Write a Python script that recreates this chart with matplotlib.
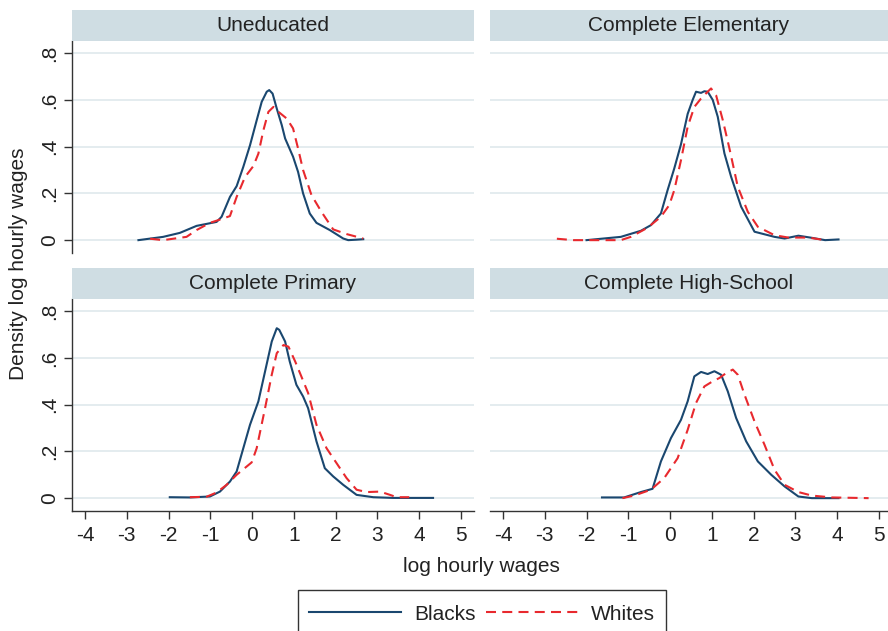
import matplotlib
matplotlib.use("Agg")
import matplotlib.pyplot as plt
from matplotlib.lines import Line2D
from matplotlib.patches import Rectangle

plt.rcParams['font.family'] = ['Liberation Sans', 'DejaVu Sans']
plt.rcParams['axes.unicode_minus'] = False

# Kernel density estimates of log hourly wages, by education group
panel_titles = ["Uneducated", "Complete Elementary", "Complete Primary", "Complete High-School"]
series_names = ["Blacks", "Whites"]

uned_black_x = [-2.72, -2.13, -1.73, -1.33, -0.85, -0.73, -0.53, -0.37, -0.21, -0.05, 0.11, 0.23,
                0.35, 0.41, 0.49, 0.59, 0.71, 0.79, 0.98, 1.10, 1.22, 1.38, 1.54, 1.86, 2.18, 2.30,
                2.50, 2.66]
uned_black_y = [0.0, 0.014, 0.031, 0.061, 0.078, 0.10, 0.185, 0.231, 0.314, 0.406, 0.513, 0.592,
                0.635, 0.642, 0.627, 0.563, 0.492, 0.435, 0.357, 0.292, 0.20, 0.114, 0.074, 0.043,
                0.007, 0.0, 0.002, 0.004]
uned_white_x = [-2.44, -2.13, -1.57, -1.33, -1.01, -0.77, -0.53, -0.37, -0.17, 0.03, 0.15, 0.27,
                0.39, 0.51, 0.63, 0.83, 0.98, 1.10, 1.22, 1.42, 1.66, 1.94, 2.26, 2.66]
uned_white_y = [0.006, 0.0, 0.014, 0.043, 0.074, 0.088, 0.103, 0.185, 0.27, 0.317, 0.37, 0.47,
                0.549, 0.57, 0.549, 0.52, 0.478, 0.392, 0.30, 0.193, 0.121, 0.046, 0.026, 0.007]

elem_black_x = [-2.0, -1.18, -0.70, -0.46, -0.22, -0.06, 0.10, 0.26, 0.42, 0.54, 0.62, 0.74, 0.82,
                0.90, 1.02, 1.14, 1.30, 1.46, 1.70, 2.02, 2.50, 2.74, 3.07, 3.39, 3.71, 4.03]
elem_black_y = [0.0, 0.014, 0.04, 0.064, 0.114, 0.214, 0.307, 0.41, 0.54, 0.60, 0.635, 0.63, 0.637,
                0.635, 0.60, 0.528, 0.371, 0.271, 0.143, 0.036, 0.014, 0.007, 0.019, 0.01, 0.0, 0.003]
elem_white_x = [-2.71, -2.31, -1.18, -0.94, -0.54, -0.22, -0.02, 0.10, 0.26, 0.42, 0.58, 0.74, 0.90,
                0.98, 1.10, 1.26, 1.42, 1.62, 1.86, 2.10, 2.50, 2.83, 3.31, 3.71]
elem_white_y = [0.006, 0.0, 0.0, 0.014, 0.053, 0.10, 0.15, 0.214, 0.342, 0.485, 0.57, 0.606, 0.635,
                0.649, 0.62, 0.514, 0.392, 0.228, 0.121, 0.057, 0.021, 0.011, 0.011, 0.0]

prim_black_x = [-1.97, -1.49, -1.01, -0.77, -0.53, -0.37, -0.21, -0.05, 0.15, 0.31, 0.47, 0.59,
                0.65, 0.79, 0.90, 1.06, 1.22, 1.34, 1.54, 1.74, 1.94, 2.18, 2.50, 2.90, 3.37, 4.33]
prim_black_y = [0.004, 0.003, 0.007, 0.028, 0.071, 0.114, 0.214, 0.314, 0.414, 0.542, 0.67, 0.727,
                0.72, 0.67, 0.585, 0.485, 0.435, 0.385, 0.243, 0.128, 0.093, 0.057, 0.014, 0.004,
                0.001, 0.001]
prim_white_x = [-1.49, -1.09, -0.85, -0.61, -0.37, -0.01, 0.11, 0.31, 0.47, 0.59, 0.75, 0.87, 1.03,
                1.18, 1.34, 1.54, 1.78, 2.02, 2.26, 2.50, 2.74, 3.06, 3.30, 3.46, 3.76]
prim_white_y = [0.004, 0.006, 0.024, 0.057, 0.10, 0.153, 0.214, 0.385, 0.528, 0.62, 0.655, 0.648,
                0.585, 0.52, 0.45, 0.314, 0.214, 0.15, 0.086, 0.036, 0.026, 0.028, 0.014, 0.004, 0.004]

high_black_x = [-1.63, -1.10, -0.70, -0.42, -0.22, 0.02, 0.26, 0.42, 0.58, 0.74, 0.90, 1.06, 1.22,
                1.38, 1.58, 1.82, 2.10, 2.42, 2.74, 3.07, 3.39, 4.03]
high_black_y = [0.003, 0.003, 0.026, 0.04, 0.157, 0.257, 0.335, 0.414, 0.521, 0.54, 0.531, 0.543,
                0.528, 0.457, 0.343, 0.243, 0.157, 0.10, 0.05, 0.007, 0.0, 0.0]
high_white_x = [-1.14, -0.86, -0.46, -0.14, 0.18, 0.42, 0.62, 0.82, 1.02, 1.18, 1.34, 1.50, 1.62,
                1.78, 2.02, 2.26, 2.50, 2.74, 3.07, 3.39, 3.87, 4.75]
high_white_y = [0.0, 0.011, 0.036, 0.086, 0.171, 0.292, 0.407, 0.478, 0.50, 0.514, 0.535, 0.55, 0.528,
                0.443, 0.328, 0.228, 0.121, 0.057, 0.026, 0.011, 0.003, 0.0]

panels = [
    (uned_black_x, uned_black_y, uned_white_x, uned_white_y),
    (elem_black_x, elem_black_y, elem_white_x, elem_white_y),
    (prim_black_x, prim_black_y, prim_white_x, prim_white_y),
    (high_black_x, high_black_y, high_white_x, high_white_y),
]

x_ticks = [-4, -3, -2, -1, 0, 1, 2, 3, 4, 5]
y_ticks = [0, 0.2, 0.4, 0.6, 0.8]
y_tick_labels = ["0", ".2", ".4", ".6", ".8"]

BLUE = "#1a476f"
RED = "#e8292e"
STRIP = "#cfdde3"
GRID = "#dde7eb"
TEXT = "#222222"
AXIS = "#333333"

W, H = 888, 631
fig = plt.figure(figsize=(W / 100, H / 100), dpi=100)

def frac(x0, y0, w, h):
    return [x0 / W, 1 - (y0 + h) / H, w / W, h / H]

col_x = [72, 490]
row_y = [41, 299]
ax_w, ax_h = 402, 212
strip_h = 31

for i, (bx, by, wx, wy) in enumerate(panels):
    r, c = divmod(i, 2)
    x0, y0 = col_x[c], row_y[r]
    ax = fig.add_axes(frac(x0, y0, ax_w, ax_h))
    ax.set_xlim(-4.31, 5.31)
    ax.set_ylim(-0.055, 0.852)
    ax.set_yticks(y_ticks)
    ax.set_yticklabels(y_tick_labels, rotation=90, va="center")
    ax.set_xticks(x_ticks)
    ax.grid(axis="y", color=GRID, lw=1.1, zorder=0)
    ax.set_axisbelow(True)
    for s in ax.spines.values():
        s.set_visible(False)
        s.set_color(AXIS)
        s.set_linewidth(1.0)
    ax.tick_params(colors=AXIS, labelcolor=TEXT, labelsize=15, length=5.5, width=1.0)
    ax.tick_params(axis="y", pad=4)
    ax.tick_params(axis="x", pad=5)
    if c == 0:
        ax.spines["left"].set_visible(True)
    else:
        ax.tick_params(axis="y", left=False, labelleft=False)
    if r == 1:
        ax.spines["bottom"].set_visible(True)
    else:
        ax.tick_params(axis="x", bottom=False, labelbottom=False)

    ax.plot(bx, by, color=BLUE, lw=1.5, zorder=3, solid_joinstyle="round")
    ax.plot(wx, wy, color=RED, lw=1.5, dashes=(4.8, 3.0), zorder=3)

    sax = fig.add_axes(frac(x0, y0 - strip_h, ax_w, strip_h))
    sax.set_facecolor(STRIP)
    sax.set_xticks([])
    sax.set_yticks([])
    for s in sax.spines.values():
        s.set_visible(False)
    cx = (x0 + min(x0 + ax_w, W)) / 2 - x0
    sax.text(cx / ax_w, 0.5, panel_titles[i], ha="center", va="center",
             fontsize=15, color=TEXT, transform=sax.transAxes)

fig.text(18.5 / W, 1 - 264 / H, "Density log hourly wages", rotation=90,
         ha="center", va="center", fontsize=15, color=TEXT)
fig.text(481 / W, 1 - 567 / H, "log hourly wages", ha="center", va="center",
         fontsize=15, color=TEXT)

# legend box runs past the lower edge of the figure
fig.add_artist(Rectangle((298 / W, -12 / H), 368 / W, 53 / H, transform=fig.transFigure,
                         fill=False, edgecolor=AXIS, linewidth=1.0))
handles = [Line2D([], [], color=BLUE, lw=1.5),
           Line2D([], [], color=RED, lw=1.5, dashes=(4.8, 3.0))]
leg = fig.legend(handles, series_names, loc="center", ncol=2,
                 bbox_to_anchor=(482 / W, 1 - 614 / H), fontsize=15,
                 frameon=False, handlelength=4.4, handletextpad=0.65,
                 columnspacing=0.5, borderpad=0.0, borderaxespad=0)
for t in leg.get_texts():
    t.set_color(TEXT)

fig.savefig("out.png", dpi=100)
